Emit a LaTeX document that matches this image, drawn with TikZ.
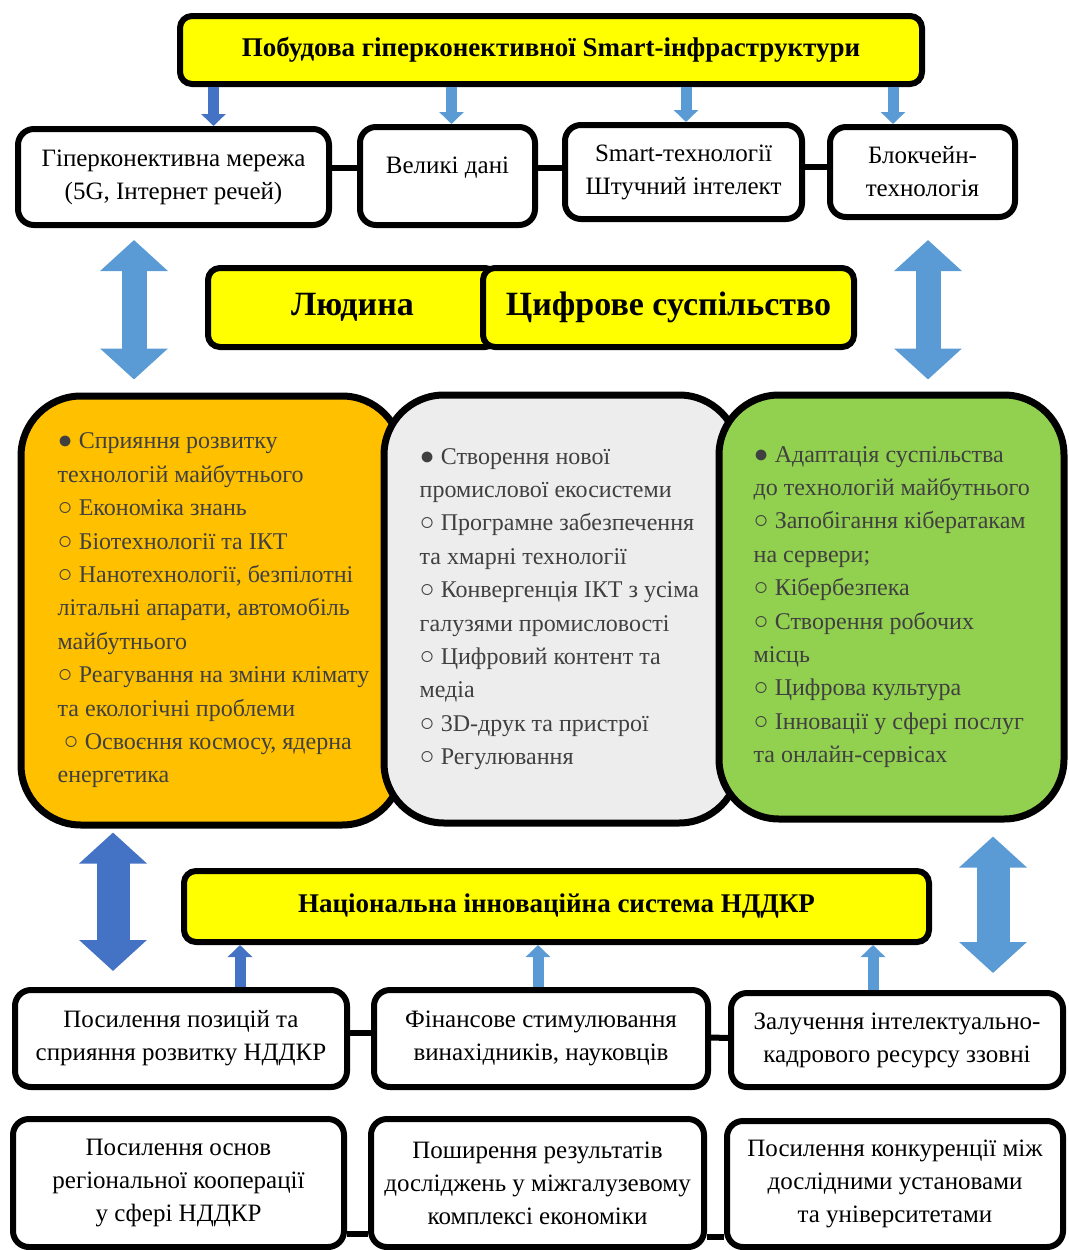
\documentclass[tikz,border=0pt]{standalone}
\usepackage{fontspec}
\setmainfont{Liberation Serif}
\usetikzlibrary{arrows.meta}

\definecolor{hdryellow}{HTML}{FFFF00}
\definecolor{techorange}{HTML}{FFC000}
\definecolor{indgray}{HTML}{EDEDED}
\definecolor{socgreen}{HTML}{92D050}
\definecolor{arrdark}{HTML}{4472C4}
\definecolor{arrlight}{HTML}{5B9BD5}
\definecolor{txtgray}{HTML}{404040}

\newcommand{\fullbul}{{\fontsize{25}{25}\selectfont ●}}
\newcommand{\openbul}{{\fontsize{25}{25}\selectfont ○}}

\begin{document}
\begin{tikzpicture}[x=1pt, y=-1pt,
  hdrbox/.style={draw, line width=6pt, fill=hdryellow, rounded corners=12pt, inner sep=0pt,
    font=\bfseries\fontsize{27}{32}\selectfont},
  itembox/.style={draw, line width=6pt, fill=white, rounded corners=16pt, inner sep=0pt,
    align=center, font=\fontsize{25}{33}\selectfont},
  bigbox/.style={draw, line width=7pt, rounded corners=60pt, inner sep=0pt},
  listtext/.style={anchor=west, align=left, inner sep=0pt, text=txtgray,
    font=\fontsize{24}{33.4}\selectfont},
  link/.style={line width=6pt},
  smallarr/.style={line width=11pt, -{Triangle[width=24pt,length=12pt]}},
  bigarr/.style={line width=#1, {Triangle[width=66pt,length=31pt]}-{Triangle[width=66pt,length=31pt]}},
]
\useasboundingbox (0,0) rectangle (1068,1250);

% infrastructure
\node[hdrbox, minimum width=742pt, minimum height=68pt] (build) at (551,50) {Побудова гіперконективної Smart-інфраструктури};
\node[itembox, minimum width=311pt, minimum height=96pt] (net) at (173.5,177) {Гіперконективна мережа\\(5G, Інтернет речей)};
\node[itembox, minimum width=175pt, minimum height=98pt, text depth=21pt] (bigdata) at (447.5,176) {Великі дані};
\node[itembox, minimum width=237pt, minimum height=94pt] (smart) at (683.5,172) {Smart-технології\\Штучний інтелект};
\node[itembox, minimum width=185pt, minimum height=90pt] (chain) at (922.5,172) {Блокчейн-\\технологія};

\draw[link] ([yshift=9pt]net.east) -- ([yshift=8pt]bigdata.west);
\draw[link] ([yshift=8pt]bigdata.east) -- ([yshift=4pt]smart.west);
\draw[link] ([yshift=5pt]smart.east) -- ([yshift=5pt]chain.west);

\draw[smallarr, arrdark] ([xshift=40pt]net.north |- build.south) -- ([xshift=40pt]net.north);
\draw[smallarr, arrlight] ([xshift=4pt]bigdata.north |- build.south) -- ([xshift=4pt]bigdata.north);
\draw[smallarr, arrlight] ([xshift=2.5pt]smart.north |- build.south) -- ([xshift=2.5pt]smart.north);
\draw[smallarr, arrlight] ([xshift=-29.5pt]chain.north |- build.south) -- ([xshift=-29.5pt]chain.north);

% human and society
\node[hdrbox, minimum width=289pt, minimum height=79pt, font=\bfseries\fontsize{34}{40}\selectfont] (human) at (352.5,307.5) {Людина};
\node[hdrbox, minimum width=371pt, minimum height=79pt, font=\bfseries\fontsize{34}{40}\selectfont] (society) at (668.5,307.5) {Цифрове суспільство};

% three directions
\node[bigbox, fill=techorange, minimum width=381pt, minimum height=429pt] (future) at (211.5,610.5) {};
\node[listtext] (futuretext) at ([xshift=40pt]future.west) {\fullbul{} Сприяння розвитку\\
технологій майбутнього\\
\openbul{} Економіка знань\\
\openbul{} Біотехнології та ІКТ\\
\openbul{} Нанотехнології, безпілотні\\
літальні апарати, автомобіль\\
майбутнього\\
\openbul{} Реагування на зміни клімату\\
та екологічні проблеми\\
\ \openbul{} Освоєння космосу, ядерна\\
енергетика};

\node[bigbox, fill=indgray, minimum width=355pt, minimum height=428pt] (industry) at (561.5,609) {};
\node[listtext] (industrytext) at ([xshift=39pt]industry.west) {\fullbul{} Створення нової\\
промислової екосистеми\\
\openbul{} Програмне забезпечення\\
та хмарні технології\\
\openbul{} Конвергенція ІКТ з усіма\\
галузями промисловості\\
\openbul{} Цифровий контент та\\
медіа\\
\openbul{} 3D-друк та пристрої\\
\openbul{} Регулювання};

\node[bigbox, fill=socgreen, minimum width=345pt, minimum height=424pt] (adapt) at (891.5,607) {};
\node[listtext] (adapttext) at ([xshift=38pt]adapt.west) {\fullbul{} Адаптація суспільства\\
до технологій майбутнього\\
\openbul{} Запобігання кібератакам\\
на сервери;\\
\openbul{} Кібербезпека\\
\openbul{} Створення робочих\\
місць\\
\openbul{} Цифрова культура\\
\openbul{} Інновації у сфері послуг\\
та онлайн-сервісах};

\draw[bigarr=25pt, arrlight] ([xshift=-39.5pt, yshift=-12pt]net.south) -- ([xshift=-77.5pt, yshift=13pt]future.north);
\draw[bigarr=25pt, arrlight] ([xshift=5.5pt, yshift=-20pt]chain.south) -- ([xshift=36.5pt, yshift=12pt]adapt.north);

% research and development
\node[hdrbox, minimum width=745pt, minimum height=71pt] (nis) at (556.5,906.5) {Національна інноваційна система НДДКР};
\node[itembox, minimum width=332pt, minimum height=97pt] (posit) at (181,1038.5) {Посилення позицій та\\сприяння розвитку НДДКР};
\node[itembox, minimum width=334pt, minimum height=97pt] (finance) at (541,1038.5) {Фінансове стимулювання\\винахідників, науковців};
\node[itembox, minimum width=332pt, minimum height=94pt] (talent) at (897,1040) {Залучення інтелектуально-\\кадрового ресурсу ззовні};
\node[itembox, minimum width=331pt, minimum height=128pt] (region) at (178.5,1183) {Посилення основ\\регіональної кооперації\\у сфері НДДКР};
\node[itembox, minimum width=333pt, minimum height=128pt] (spread) at (537.5,1183) {Поширення результатів\\досліджень у міжгалузевому\\комплексі економіки};
\node[itembox, minimum width=336pt, minimum height=126pt] (compete) at (895,1184) {Посилення конкуренції між\\дослідними установами\\та університетами};

\draw[link] ([yshift=6pt]posit.east) -- ([yshift=6pt]finance.west);
\draw[link] ([yshift=1pt]finance.east) -- ([yshift=2pt]talent.west);
\draw[link] ([yshift=-51pt]region.east) -- ([yshift=-51pt]spread.west);
\draw[link] ([yshift=-54pt]spread.east) -- ([yshift=-53pt]compete.west);

\draw[smallarr, arrdark] ([xshift=59pt]posit.north) -- ([xshift=59pt]posit.north |- nis.south);
\draw[smallarr, arrlight] ([xshift=-3pt]finance.north) -- ([xshift=-3pt]finance.north |- nis.south);
\draw[smallarr, arrlight] ([xshift=-24pt]talent.north) -- ([xshift=-24pt]talent.north |- nis.south);

\draw[bigarr=33pt, arrdark] ([xshift=-98.5pt, yshift=-4pt]future.south) -- ([xshift=-68pt, yshift=16pt]posit.north);
\draw[bigarr=33pt, arrlight] ([xshift=101.5pt, yshift=-14pt]adapt.south) -- ([xshift=96pt, yshift=17pt]talent.north);
\end{tikzpicture}
\end{document}
